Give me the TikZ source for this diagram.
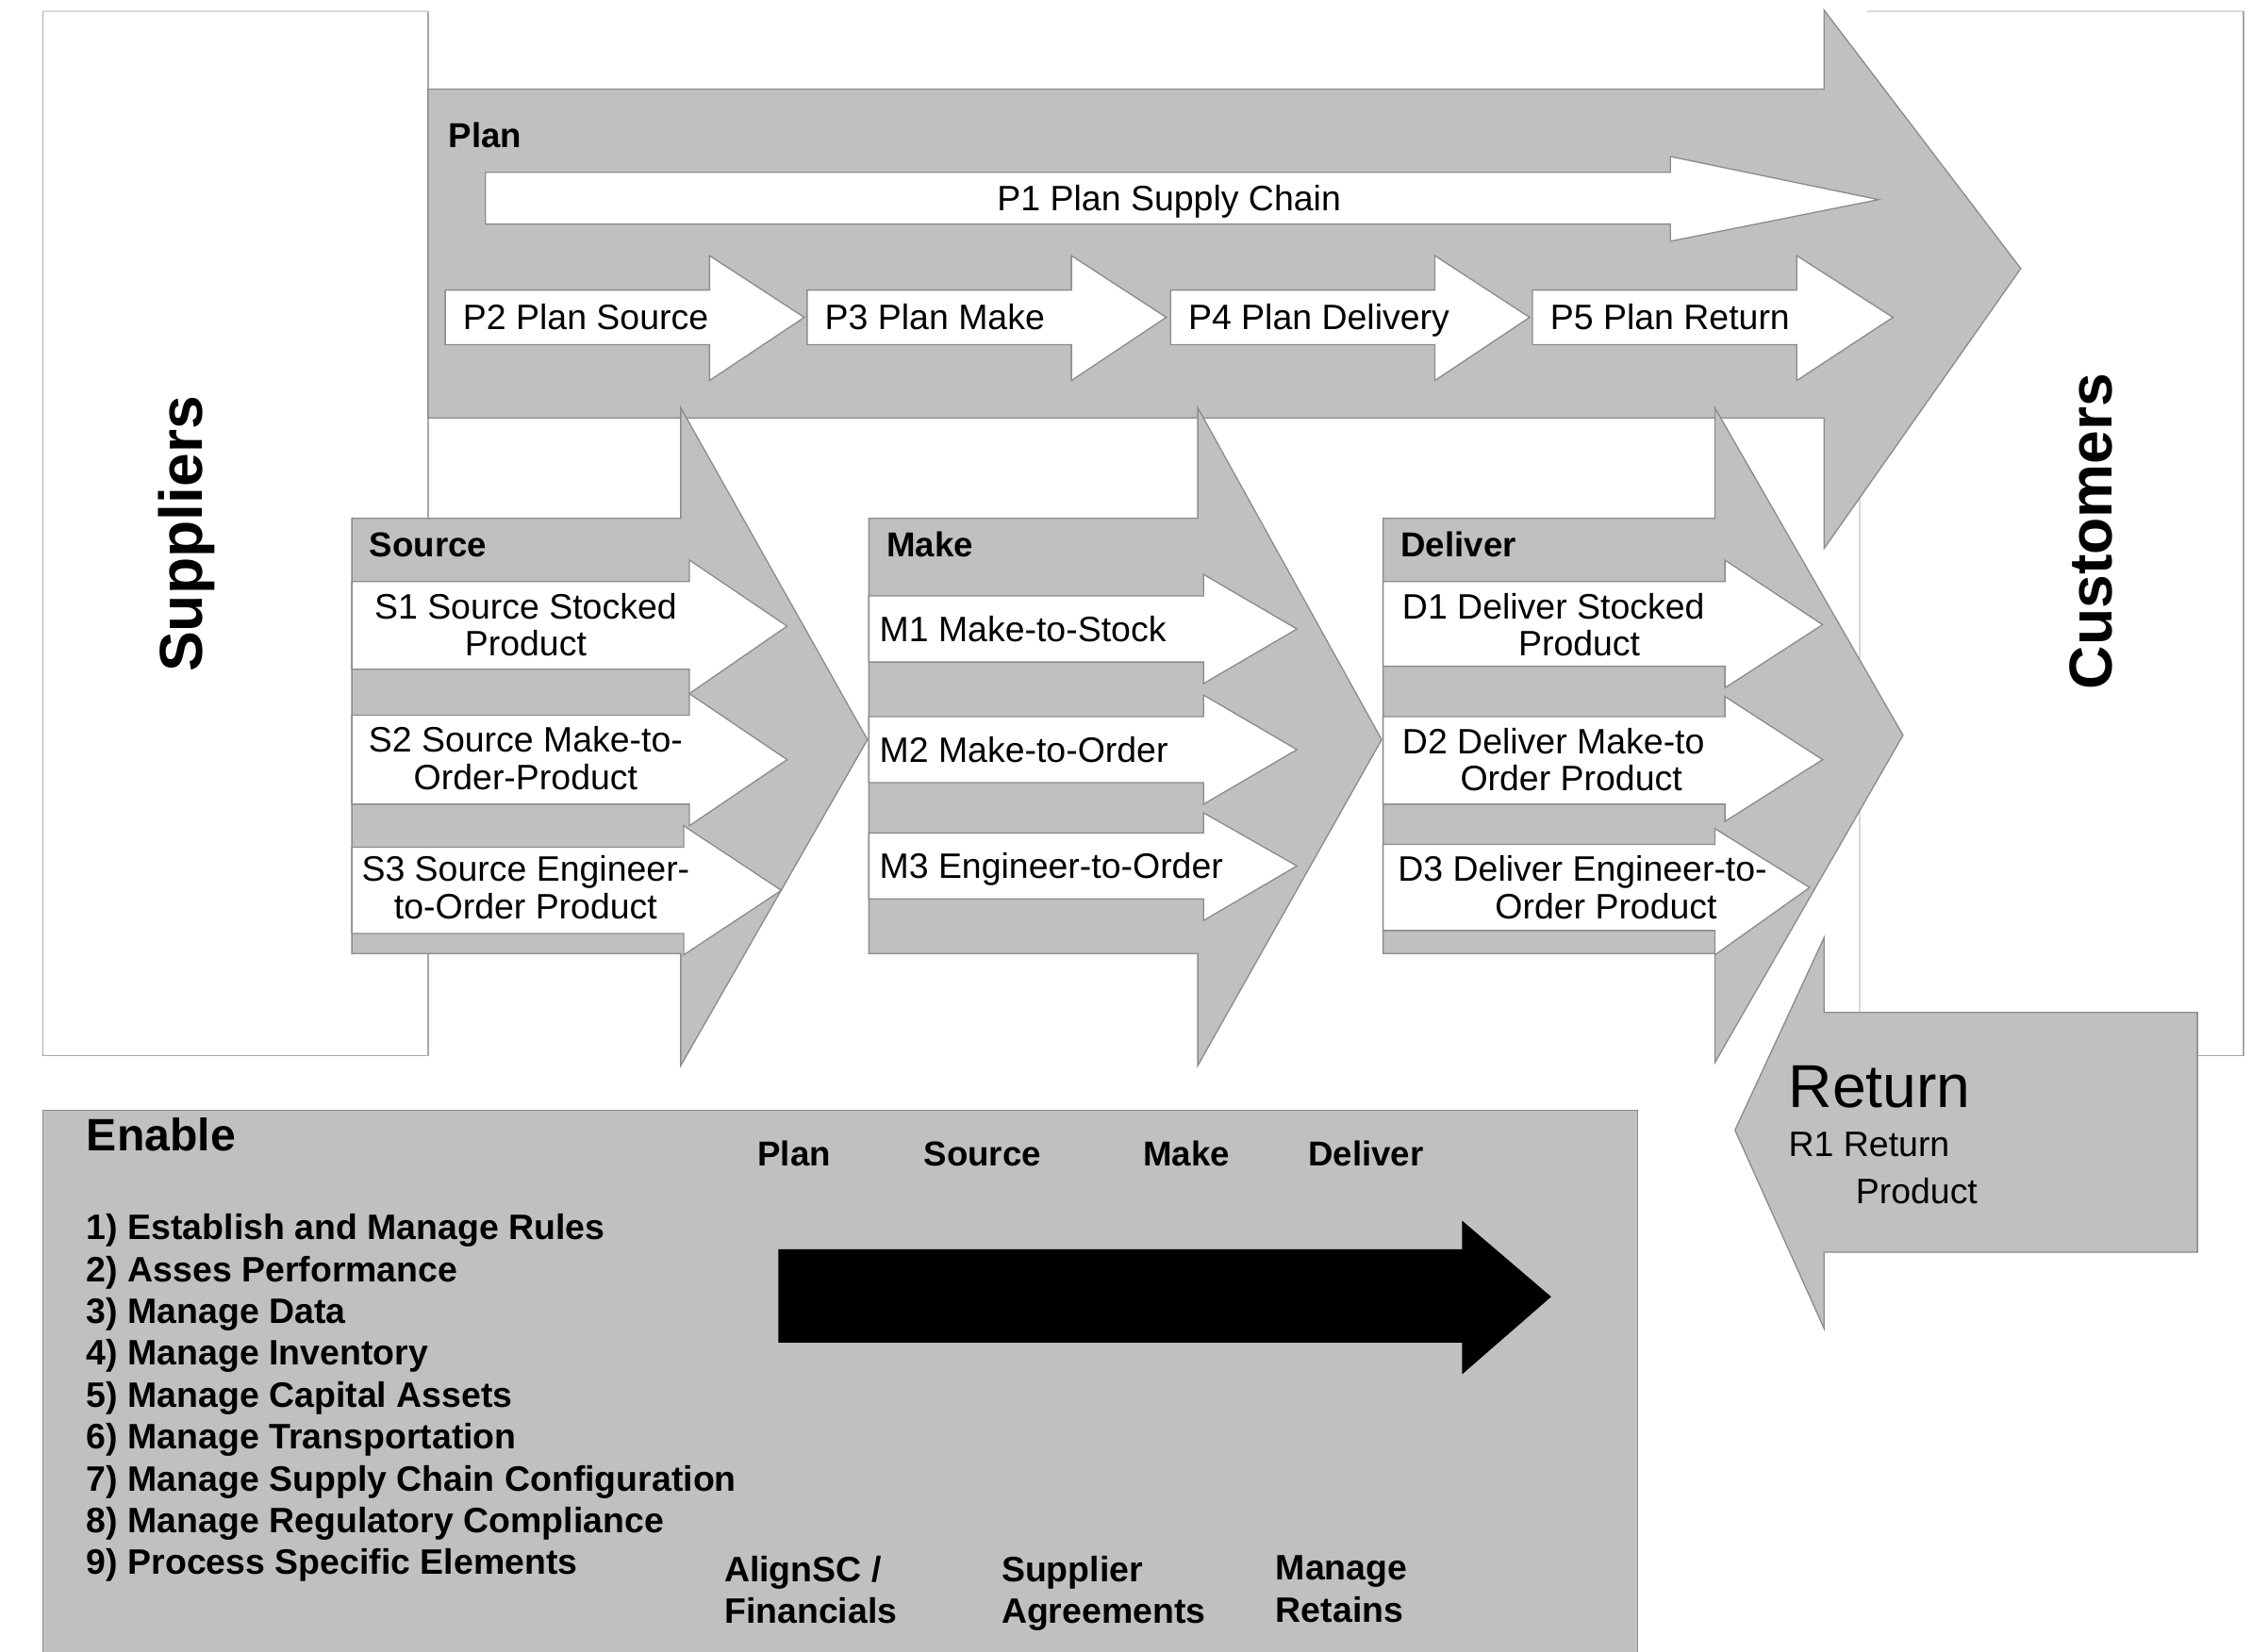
\documentclass[tikz,border=0pt]{standalone}
\usepackage{fontspec}
\setmainfont{Liberation Sans}
\definecolor{scorgray}{HTML}{C0C0C0}
\definecolor{edgegray}{HTML}{8C8C8C}
\definecolor{boxedge}{HTML}{A8A8A8}
\definecolor{lightedge}{HTML}{D9D9D9}

\begin{document}
\begin{tikzpicture}[x=0.02cm, y=-0.02cm,
  grayarrow/.style={fill=scorgray, draw=edgegray, line width=0.5pt},
  whitearrow/.style={fill=white, draw=edgegray, line width=0.5pt},
  frame/.style={draw=boxedge, line width=0.6pt},
  lightframe/.style={draw=lightedge, line width=0.6pt},
  txt/.style={inner sep=0pt, font=\fontsize{14}{14.7}\selectfont},
  one/.style={txt, text height=10pt, text depth=0pt},
  head/.style={inner sep=0pt, text height=10pt, text depth=0pt, font=\fontsize{13.7}{16.5}\selectfont\bfseries},
  side/.style={inner sep=0pt, rotate=90, font=\fontsize{24}{28}\selectfont\bfseries}
]
\useasboundingbox (0,0) rectangle (1568,1150);

% suppliers and customers
\draw[frame] (30,8) -- (30,735) -- (298,735) -- (298,8);
\draw[lightframe] (30,8) -- (298,8);
\node[side] (sup) at (130,372) {Suppliers};
\draw[lightframe] (1300,8) -- (1562,8);
\draw[frame] (1562,8) -- (1562,735) -- (1530,735);
\draw[lightframe] (1295,345) -- (1295,705);
\node[side] (cus) at (1456,370) {Customers};

% enable box
\draw[grayarrow] (30,1152) -- (30,773) -- (1140,773) -- (1140,1152);

% plan
\draw[grayarrow] (298,62) -- (1270,62) -- (1270,7) -- (1407,187) -- (1270,382) -- (1270,291) -- (298,291) -- cycle;
\node[head, anchor=west] (plan) at (312,94) {Plan};
\draw[whitearrow] (338,120) -- (1163,120) -- (1163,109) -- (1308,139) -- (1163,168) -- (1163,156) -- (338,156) -- cycle;
\node[one] (p1) at (814,138) {P1 Plan Supply Chain};
\draw[whitearrow] (310,202) -- (494,202) -- (494,178) -- (560,221) -- (494,265) -- (494,240) -- (310,240) -- cycle;
\draw[whitearrow] (562,202) -- (746,202) -- (746,178) -- (812,221) -- (746,265) -- (746,240) -- (562,240) -- cycle;
\draw[whitearrow] (815,202) -- (999,202) -- (999,178) -- (1065,221) -- (999,265) -- (999,240) -- (815,240) -- cycle;
\draw[whitearrow] (1067,202) -- (1251,202) -- (1251,178) -- (1318,221) -- (1251,265) -- (1251,240) -- (1067,240) -- cycle;
\node[one, anchor=west] (p2) at (322,221) {P2 Plan Source};
\node[one, anchor=west] (p3) at (574,221) {P3 Plan Make};
\node[one, anchor=west] (p4) at (827,221) {P4 Plan Delivery};
\node[one, anchor=west] (p5) at (1079,221) {P5 Plan Return};

% source
\draw[grayarrow] (245,361) -- (474,361) -- (474,284) -- (604,515) -- (474,742) -- (474,664) -- (245,664) -- cycle;
\node[head, anchor=west] (source) at (257,379) {Source};
\draw[whitearrow] (245,405) -- (480,405) -- (480,390) -- (548,436) -- (480,483) -- (480,466) -- (245,466) -- cycle;
\draw[whitearrow] (245,498) -- (480,498) -- (480,483) -- (548,529) -- (480,575) -- (480,560) -- (245,560) -- cycle;
\draw[whitearrow] (245,590) -- (476,590) -- (476,575) -- (544,620) -- (476,665) -- (476,650) -- (245,650) -- cycle;
\node[txt, align=center] (s1) at (366,435) {S1 Source Stocked\\Product};
\node[txt, align=center] (s2) at (366,528) {S2 Source Make-to-\\Order-Product};
\node[txt, align=center] (s3) at (366,618) {S3 Source Engineer-\\to-Order Product};

% make
\draw[grayarrow] (605,361) -- (834,361) -- (834,284) -- (962,515) -- (834,742) -- (834,664) -- (605,664) -- cycle;
\node[head, anchor=west] (make) at (617,379) {Make};
\draw[whitearrow] (605,415) -- (838,415) -- (838,400) -- (903,438) -- (838,476) -- (838,461) -- (605,461) -- cycle;
\draw[whitearrow] (605,499) -- (838,499) -- (838,484) -- (903,522) -- (838,560) -- (838,545) -- (605,545) -- cycle;
\draw[whitearrow] (605,580) -- (838,580) -- (838,566) -- (903,603) -- (838,641) -- (838,626) -- (605,626) -- cycle;
\node[one, anchor=west] (m1) at (612,438) {M1 Make-to-Stock};
\node[one, anchor=west] (m2) at (612,522) {M2 Make-to-Order};
\node[one, anchor=west] (m3) at (612,603) {M3 Engineer-to-Order};

% deliver
\draw[grayarrow] (963,361) -- (1194,361) -- (1194,284) -- (1325,512) -- (1194,740) -- (1194,664) -- (963,664) -- cycle;
\node[head, anchor=west] (deliver) at (975,379) {Deliver};
\draw[whitearrow] (963,405) -- (1201,405) -- (1201,390) -- (1269,435) -- (1201,479) -- (1201,464) -- (963,464) -- cycle;
\draw[whitearrow] (963,499) -- (1201,499) -- (1201,485) -- (1269,529) -- (1201,572) -- (1201,560) -- (963,560) -- cycle;
\draw[whitearrow] (963,588) -- (1194,588) -- (1194,577) -- (1260,618) -- (1194,665) -- (1194,648) -- (963,648) -- cycle;
\node[txt, anchor=west, align=left] (d1) at (976,435) {D1 Deliver Stocked\\\hspace*{46pt}Product};
\node[txt, anchor=west, align=left] (d2) at (976,529) {D2 Deliver Make-to\\\hspace*{23pt}Order Product};
\node[txt, anchor=west, align=left] (d3) at (973,618) {D3 Deliver Engineer-to-\\\hspace*{38.5pt}Order Product};

% return
\draw[grayarrow] (1270,705) -- (1530,705) -- (1530,872) -- (1270,872) -- (1270,925) -- (1208,787) -- (1270,653) -- cycle;
\node[inner sep=0pt, anchor=west, font=\fontsize{24}{28}\selectfont] (ret) at (1245,757) {Return};
\node[inner sep=0pt, anchor=north west, align=left, font=\fontsize{14}{18.7}\selectfont] (r1) at (1245,788) {R1 Return\\\hspace*{26.6pt}Product};

% enable contents
\node[inner sep=0pt, anchor=west, font=\fontsize{18}{20}\selectfont\bfseries] (enable) at (60,790) {Enable};
\node[head] (eplan) at (553,803) {Plan};
\node[head] (esource) at (684,803) {Source};
\node[head] (emake) at (826,803) {Make};
\node[head] (edeliver) at (951,803) {Deliver};
\fill[black] (542,870) -- (1018,870) -- (1018,850) -- (1080,903) -- (1018,957) -- (1018,935) -- (542,935) -- cycle;
\node[inner sep=0pt, anchor=north west, align=left, font=\fontsize{14}{16.6}\selectfont\bfseries] (items) at (60,845) {1) Establish and Manage Rules\\2) Asses Performance\\3) Manage Data\\4) Manage Inventory\\5) Manage Capital Assets\\6) Manage Transportation\\7) Manage Supply Chain Configuration\\8) Manage Regulatory Compliance\\9) Process Specific Elements};
\node[inner sep=0pt, anchor=north west, align=left, font=\fontsize{14}{16.6}\selectfont\bfseries] (align) at (504,1083) {AlignSC /\\Financials};
\node[inner sep=0pt, anchor=north west, align=left, font=\fontsize{14}{16.6}\selectfont\bfseries] (agree) at (697,1083) {Supplier\\Agreements};
\node[inner sep=0pt, anchor=north west, align=left, font=\fontsize{14}{16.6}\selectfont\bfseries] (retain) at (888,1083) {Manage\\Retains};
\end{tikzpicture}
\end{document}
